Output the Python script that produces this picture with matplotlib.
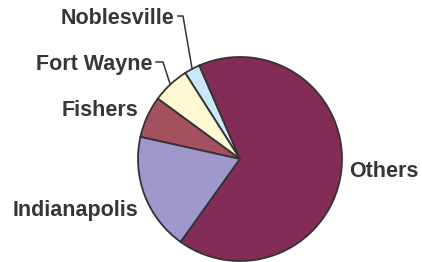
import numpy as np
import matplotlib.pyplot as plt

# share of each city
cities = ['Noblesville', 'Fort Wayne', 'Fishers', 'Indianapolis', 'Others']
shares = [2.5, 5.9, 6.6, 18.6, 66.4]
colors = ['#C9E7F7', '#FFF9D3', '#A5505E', '#9F98CB', '#832C57']

fig = plt.figure(figsize=(4.22, 2.62), dpi=100)
ax = fig.add_axes([0, 0, 1, 1])

# pixel layout: pie center (240, 159), radius 102
cx, cy, r = 240, 159, 102
W, H = 422, 262

start = 113.5
wedges, _ = ax.pie(shares, colors=colors, startangle=start, counterclock=True,
                   radius=1, center=(0, 0), frame=False,
                   wedgeprops=dict(edgecolor='#333333', linewidth=1.3))
ax.set_xlim(-cx / r, (W - cx) / r)
ax.set_ylim((cy - H) / r, cy / r)
ax.set_aspect('auto')
ax.axis('off')

def px(x, y):
    return (x - cx) / r, (cy - y) / r

txt = dict(fontsize=15.5, fontweight='bold', color='#363636', family='Liberation Sans')

# label anchors in pixels: (x, baseline y, ha)
label_pos = {
    'Noblesville': (174, 24, 'right'),
    'Fort Wayne': (153, 70, 'right'),
    'Fishers': (138, 116, 'right'),
    'Indianapolis': (138, 216, 'right'),
    'Others': (349, 177, 'left'),
}
for name in cities:
    x, y, ha = label_pos[name]
    tx, ty = px(x, y)
    ax.text(tx, ty, name, ha=ha, va='baseline', **txt)

# leader lines for the two thin slices
elbows = {'Noblesville': [(178, 16), (183, 16)],
          'Fort Wayne': [(156, 62), (163, 62)]}
for w, name in zip(wedges, cities):
    if name not in elbows:
        continue
    mid = np.deg2rad((w.theta1 + w.theta2) / 2)
    pts = [px(*p) for p in elbows[name]] + [(np.cos(mid), np.sin(mid))]
    xs, ys = zip(*pts)
    ax.plot(xs, ys, color='#333333', linewidth=1.1)

fig.savefig('out.png', dpi=100)
